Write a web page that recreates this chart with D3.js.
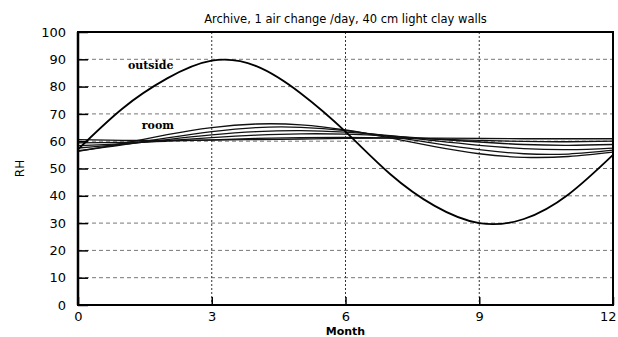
<!DOCTYPE html>
<html>
<head>
<meta charset="utf-8">
<script src="https://cdn.jsdelivr.net/npm/d3@7"></script>
<style>
body { margin: 0; background: #fff; }
text { font-family: "DejaVu Sans", "Liberation Sans", sans-serif; fill: #000; }
</style>
</head>
<body>
<svg id="chart" width="618" height="337"></svg>
<script>
// data (RH in %, month 0..12)
var months = [0, 1, 2, 3, 4, 5, 6, 7, 8, 9, 10, 11, 12];
var outside = [57.0, 72.0, 83.0, 89.5, 87.5, 77.5, 63.5, 48.0, 36.3, 30.0, 31.5, 40.5, 55.0];
var room1 = [56.3, 59.2, 62.4, 65.0, 66.3, 66.0, 64.1, 61.2, 58.0, 55.4, 54.1, 54.4, 56.0];
var room2 = [56.5, 58.7, 61.2, 63.5, 65.0, 65.1, 63.9, 61.7, 59.2, 56.9, 55.4, 55.3, 56.7];
var room3 = [57.5, 58.8, 60.6, 62.3, 63.5, 63.9, 63.3, 62.0, 60.2, 58.5, 57.3, 56.9, 57.5];
var room4 = [58.4, 59.1, 60.2, 61.3, 62.2, 62.7, 62.6, 61.9, 60.8, 59.7, 58.8, 58.5, 58.8];
var room5 = [59.4, 59.6, 60.0, 60.5, 61.0, 61.3, 61.4, 61.2, 60.8, 60.3, 59.9, 59.8, 60.0];
var room6 = [60.6, 60.3, 60.3, 60.4, 60.6, 60.8, 61.0, 61.1, 61.1, 61.0, 60.9, 60.9, 60.9];
var xTicks = [0, 3, 6, 9, 12];
var yTicks = [0, 10, 20, 30, 40, 50, 60, 70, 80, 90, 100];
var titleText = "Archive, 1 air change /day, 40 cm light clay walls";

var margin = {left: 78, top: 32, right: 5, bottom: 32};
var width = 618 - margin.left - margin.right;
var height = 337 - margin.top - margin.bottom;

var svg = d3.select("#chart");
var g = svg.append("g").attr("transform", "translate(" + margin.left + "," + margin.top + ")");

var x = d3.scaleLinear().domain([0, 12]).range([0, width]);
var y = d3.scaleLinear().domain([0, 100]).range([height, 0]);

// grid
g.selectAll(".hgrid").data(yTicks.slice(1, -1)).enter().append("line")
    .attr("x1", 0).attr("x2", width)
    .attr("y1", function(d) { return y(d); }).attr("y2", function(d) { return y(d); })
    .attr("stroke", "#777").attr("stroke-width", 1).attr("stroke-dasharray", "4,3");

g.selectAll(".vgrid").data(xTicks.slice(1, -1)).enter().append("line")
    .attr("y1", 0).attr("y2", height)
    .attr("x1", function(d) { return x(d); }).attr("x2", function(d) { return x(d); })
    .attr("stroke", "#333").attr("stroke-width", 1).attr("stroke-dasharray", "2,2");

// curves
var line = d3.line()
    .x(function(d, i) { return x(months[i]); })
    .y(function(d) { return y(d); })
    .curve(d3.curveNatural);

var rooms = [room1, room2, room3, room4, room5, room6];
g.selectAll(".room").data(rooms).enter().append("path")
    .attr("d", line)
    .attr("fill", "none").attr("stroke", "#111").attr("stroke-width", 1.3);

g.append("path").datum(outside)
    .attr("d", line)
    .attr("fill", "none").attr("stroke", "#000").attr("stroke-width", 1.8);

// frame
g.append("rect").attr("width", width).attr("height", height)
    .attr("fill", "none").attr("stroke", "#000").attr("stroke-width", 2);
g.append("line").attr("x1", 0).attr("x2", 0).attr("y1", 0).attr("y2", height)
    .attr("stroke", "#000").attr("stroke-width", 2.5);

// axes with inward ticks
var yAxis = d3.axisLeft(y).tickValues(yTicks).tickSize(-10).tickPadding(12);
var xAxis = d3.axisBottom(x).tickValues(xTicks).tickSize(-8).tickPadding(7);

var ya = g.append("g").call(yAxis);
var xa = g.append("g").attr("transform", "translate(0," + height + ")").call(xAxis);
[ya, xa].forEach(function(a) {
    a.select(".domain").remove();
    a.selectAll("line").attr("stroke", "#000").attr("stroke-width", 1.5);
    a.selectAll("text").style("font-family", "DejaVu Sans, sans-serif")
        .style("font-size", "13px").attr("fill", "#000");
});
xa.selectAll("text").filter(function(d) { return d === 12; }).attr("text-anchor", "end").attr("dx", "3");

// labels
svg.append("text").attr("x", margin.left + width / 2).attr("y", 23)
    .attr("text-anchor", "middle").style("font-size", "11.5px").text(titleText);

svg.append("text").attr("x", margin.left + width / 2).attr("y", 335)
    .attr("text-anchor", "middle").style("font-size", "11px").style("font-weight", "bold").text("Month");

svg.append("text").attr("transform", "translate(24," + (margin.top + height / 2) + ") rotate(-90)")
    .attr("text-anchor", "middle").style("font-size", "12px").text("RH");

g.append("text").attr("x", x(1.12)).attr("y", y(86.5))
    .style("font-family", "DejaVu Serif, serif").style("font-size", "11px")
    .style("font-weight", "bold").text("outside");

g.append("text").attr("x", x(1.43)).attr("y", y(64.5))
    .style("font-family", "DejaVu Serif, serif").style("font-size", "11px")
    .style("font-weight", "bold").text("room");
</script>
</body>
</html>
